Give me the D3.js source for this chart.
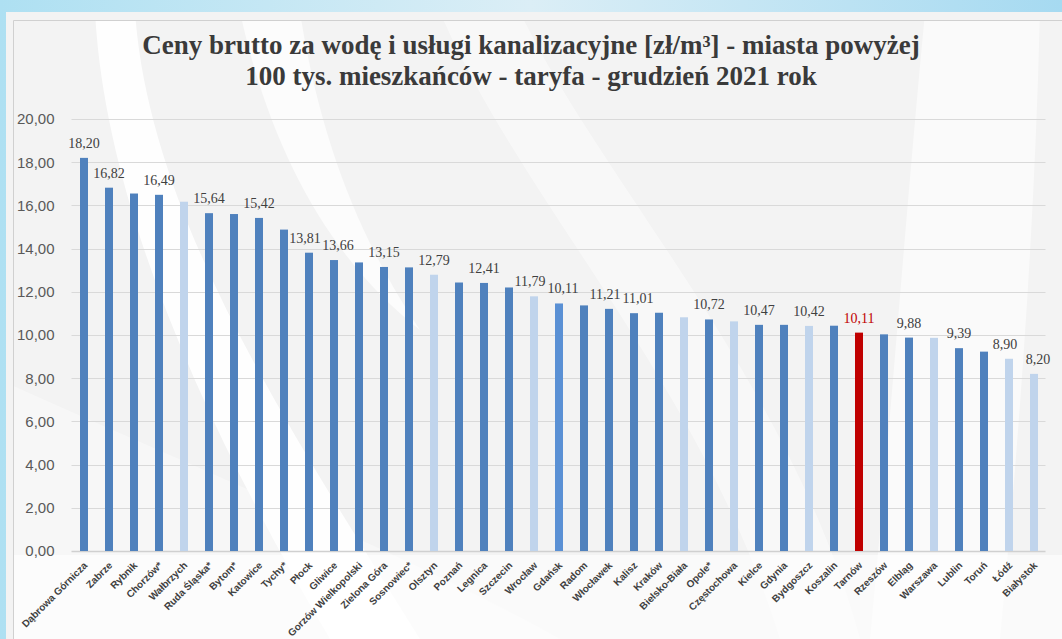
<!DOCTYPE html>
<html>
<head>
<meta charset="utf-8">
<script src="https://cdn.jsdelivr.net/npm/d3@7"></script>
<style>
  html, body { margin: 0; padding: 0; }
  body { width: 1062px; height: 639px; overflow: hidden; }
</style>
</head>
<body>
<svg width="1062" height="639"></svg>
<script>
// dane
var cities = ["Dąbrowa Górnicza", "Zabrze", "Rybnik", "Chorzów*", "Wałbrzych", "Ruda Śląska*", "Bytom*",
  "Katowice", "Tychy*", "Płock", "Gliwice", "Gorzów Wielkopolski", "Zielona Góra", "Sosnowiec*", "Olsztyn",
  "Poznań", "Legnica", "Szczecin", "Wrocław", "Gdańsk", "Radom", "Włocławek", "Kalisz", "Kraków",
  "Bielsko-Biała", "Opole*", "Częstochowa", "Kielce", "Gdynia", "Bydgoszcz", "Koszalin", "Tarnów",
  "Rzeszów", "Elbląg", "Warszawa", "Lublin", "Toruń", "Łódź", "Białystok"];

var prices = [18.20, 16.82, 16.55, 16.49, 16.17, 15.64, 15.60, 15.42, 14.88, 13.81, 13.47, 13.36, 13.15,
  13.13, 12.79, 12.43, 12.41, 12.20, 11.79, 11.46, 11.37, 11.21, 11.01, 11.03, 10.82, 10.72, 10.63, 10.47,
  10.47, 10.42, 10.43, 10.11, 10.03, 9.88, 9.87, 9.39, 9.23, 8.90, 8.20];

// etykiety danych (tylko przy części słupków)
var valueLabels = ["18,20", "16,82", "", "16,49", "", "15,64", "", "15,42", "", "13,81", "13,66", "",
  "13,15", "", "12,79", "", "12,41", "", "11,79", "10,11", "", "11,21", "11,01", "", "", "10,72", "",
  "10,47", "", "10,42", "", "10,11", "", "9,88", "", "9,39", "", "8,90", "8,20"];

// grupy słupków
var lightCities = ["Wałbrzych", "Olsztyn", "Wrocław", "Bielsko-Biała", "Częstochowa", "Bydgoszcz",
  "Warszawa", "Łódź", "Białystok"];
var brightCities = ["Gdańsk"];
var ownCity = "Tarnów";

var yTicks = [0, 2, 4, 6, 8, 10, 12, 14, 16, 18, 20];
var titleLines = ["Ceny brutto za wodę i usługi kanalizacyjne [zł/m³] - miasta powyżej",
  "100 tys. mieszkańców - taryfa - grudzień 2021 rok"];

var data = cities.map(function(c, i) {
  var g = "base";
  if (lightCities.indexOf(c) >= 0) g = "light";
  if (brightCities.indexOf(c) >= 0) g = "bright";
  if (c === ownCity) g = "own";
  return { city: c, value: prices[i], label: valueLabels[i], group: g, i: i };
});

var svg = d3.select("svg");
var width = +svg.attr("width"),
    height = +svg.attr("height");

var margin = { left: 71.5, right: 15.5, top: 119, bottom: 88 };

// tło slajdu
var defs = svg.append("defs");
var grad = defs.append("linearGradient").attr("id", "bg").attr("x1", 0).attr("x2", 1).attr("y1", 0).attr("y2", 0);
grad.append("stop").attr("offset", "0%").attr("stop-color", "#aee0f2");
grad.append("stop").attr("offset", "50%").attr("stop-color", "#dbeef6");
grad.append("stop").attr("offset", "100%").attr("stop-color", "#a6daf1");

svg.append("rect").attr("width", width).attr("height", height).attr("fill", "url(#bg)");
svg.append("rect").attr("x", 6).attr("y", 12).attr("width", width - 6).attr("height", height - 12)
    .attr("fill", "#f3f3f3");

var clip = defs.append("clipPath").attr("id", "frame");
clip.append("rect").attr("x", 13).attr("y", 20).attr("width", width - 13).attr("height", height - 20);

// znak wodny (białe łuki)
var wm = svg.append("g").attr("clip-path", "url(#frame)").attr("fill", "#ffffff");
wm.append("path").attr("d", "M95,12 C105,200 200,420 330,639 L420,639 C290,430 150,220 135,12 Z").attr("opacity", 0.9);
wm.append("path").attr("d", "M240,12 C270,150 330,260 420,330 C360,240 320,140 300,12 Z").attr("opacity", 0.7);
wm.append("path").attr("d", "M0,380 C200,470 420,560 560,639 L0,639 Z").attr("opacity", 0.35);
wm.append("path").attr("d", "M440,12 C520,200 700,380 780,639 L860,639 C790,380 600,180 520,12 Z").attr("opacity", 0.45);
wm.append("path").attr("d", "M925,12 C905,220 890,430 870,639 L1000,639 C1020,430 1035,220 1040,12 Z").attr("opacity", 0.55);
wm.append("rect").attr("x", 13).attr("y", 555).attr("width", width).attr("height", 90).attr("opacity", 0.6);

// ramka wykresu
svg.append("path")
    .attr("d", "M13.5," + height + " V20.5 H" + width)
    .attr("fill", "none").attr("stroke", "#d0d0d0").attr("stroke-width", 1);

// skale
var x = d3.scaleBand()
    .domain(cities)
    .range([margin.left, width - margin.right])
    .paddingInner(0.68)
    .paddingOuter(0.34);

var y = d3.scaleLinear()
    .domain([0, 20])
    .range([height - margin.bottom, margin.top]);

var color = d3.scaleOrdinal()
    .domain(["base", "light", "bright", "own"])
    .range(["#4f81bd", "#c0d4ec", "#5a90d4", "#c00000"]);

// siatka
svg.append("g")
    .selectAll("line")
    .data(yTicks)
    .enter().append("line")
    .attr("x1", margin.left).attr("x2", width - margin.right - 1)
    .attr("y1", function(d) { return Math.round(y(d)) + 0.5; })
    .attr("y2", function(d) { return Math.round(y(d)) + 0.5; })
    .attr("stroke", function(d) { return d === 0 ? "#d0d0d0" : "#d9d9d9"; })
    .attr("stroke-width", function(d) { return d === 0 ? 1.5 : 1; });

// oś Y
var yAxis = svg.append("g")
    .attr("transform", "translate(" + (margin.left - 14) + ",0)")
    .call(d3.axisLeft(y).tickValues(yTicks).tickSize(0)
      .tickFormat(function(d) { return d3.format(".2f")(d).replace(".", ","); }));
yAxis.select(".domain").remove();
yAxis.selectAll("text")
    .attr("font-family", "Liberation Sans, Arial, sans-serif")
    .attr("font-size", 15)
    .attr("fill", "#595959");

// słupki
svg.append("g")
    .selectAll("rect")
    .data(data)
    .enter().append("rect")
    .attr("x", function(d) { return x(d.city); })
    .attr("width", x.bandwidth())
    .attr("y", function(d) { return y(d.value); })
    .attr("height", function(d) { return y(0) - y(d.value); })
    .attr("fill", function(d) { return color(d.group); });

// przesunięcie etykiet, gdy sąsiednie są na podobnej wysokości
function labelShift(d) {
  var s = 0;
  var prev = data[d.i - 1], next = data[d.i + 1];
  if (next && next.label !== "" && Math.abs(y(next.value) - y(d.value)) < 16) s -= 4;
  if (prev && prev.label !== "" && Math.abs(y(prev.value) - y(d.value)) < 16) s += 4;
  return s;
}

// etykiety danych
svg.append("g")
    .selectAll("text")
    .data(data.filter(function(d) { return d.label !== ""; }))
    .enter().append("text")
    .attr("x", function(d) { return x(d.city) + x.bandwidth() / 2 + labelShift(d); })
    .attr("y", function(d) { return y(d.value) - 10; })
    .attr("text-anchor", "middle")
    .attr("font-family", "Liberation Serif, Times New Roman, serif")
    .attr("font-size", 14)
    .attr("fill", function(d) { return d.group === "own" ? "#c00000" : "#404040"; })
    .text(function(d) { return d.label; });

// oś X – nazwy miast
var xAxis = svg.append("g")
    .attr("transform", "translate(0," + (height - margin.bottom) + ")")
    .call(d3.axisBottom(x).tickSize(0));
xAxis.select(".domain").remove();
xAxis.selectAll("text")
    .attr("font-family", "Liberation Sans, Arial, sans-serif")
    .attr("font-size", 10)
    .attr("font-weight", "bold")
    .attr("fill", "#404040")
    .attr("text-anchor", "end")
    .attr("dy", null)
    .attr("y", 0)
    .attr("transform", "translate(4,15) rotate(-45)");

// tytuł
svg.append("g")
    .selectAll("text")
    .data(titleLines)
    .enter().append("text")
    .attr("x", 531)
    .attr("y", function(d, i) { return 54 + i * 31; })
    .attr("text-anchor", "middle")
    .attr("font-family", "Liberation Serif, Times New Roman, serif")
    .attr("font-weight", "bold")
    .attr("font-size", 27)
    .attr("fill", "#3a3a3a")
    .text(function(d) { return d; });
</script>
</body>
</html>
